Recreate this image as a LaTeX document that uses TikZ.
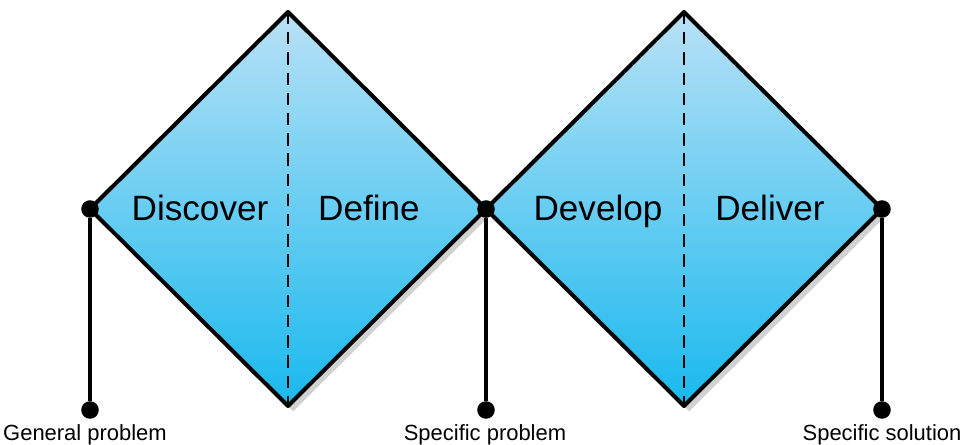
\documentclass[tikz,border=0pt]{standalone}
\usepackage{fontspec}
\setmainfont{Liberation Sans}
\usetikzlibrary{shadows}
\definecolor{toplight}{HTML}{B8E1F6}
\definecolor{botcyan}{HTML}{18B9EE}
\begin{document}
\begin{tikzpicture}[x=0.02cm,y=-0.02cm,
  phase/.style={draw,line width=2.3pt,line join=round,top color=toplight,bottom color=botcyan,drop shadow={shadow xshift=3pt,shadow yshift=-3pt,opacity=0.3,fill=black!60}},
  split/.style={dash pattern=on 7pt off 4.5pt,line width=1.1pt},
  dot/.style={circle,fill=black,inner sep=0pt,minimum size=10pt},
  stem/.style={line width=2.3pt},
  word/.style={anchor=base,font=\fontsize{20}{24}\selectfont},
  tag/.style={anchor=base,font=\fontsize{12.5}{15}\selectfont}]
\useasboundingbox (0,0) rectangle (961,445);
\coordinate (t1) at (288,12);
\coordinate (b1) at (288,406);
\coordinate (t2) at (684,12);
\coordinate (b2) at (684,406);
\path[phase] (90,209) -- (t1) -- (486,209) -- (b1) -- cycle;
\path[phase] (486,209) -- (t2) -- (882,209) -- (b2) -- cycle;
\draw[split] (t1) -- (b1);
\draw[split] (t2) -- (b2);
\node[word] (disc) at (200,221) {Discover};
\node[word] (defi) at (369,221) {Define};
\node[word] (deve) at (598,221) {Develop};
\node[word] (deli) at (770,221) {Deliver};
\node[dot] (p1) at (90,209) {};
\node[dot] (p2) at (486,209) {};
\node[dot] (p3) at (882,209) {};
\node[dot] (q1) at (90,410) {};
\node[dot] (q2) at (486,410) {};
\node[dot] (q3) at (882,410) {};
\draw[stem] (p1) -- (q1);
\draw[stem] (p2) -- (q2);
\draw[stem] (p3) -- (q3);
\node[tag] (gen) at (85,441) {General problem};
\node[tag] (spp) at (485,441) {Specific problem};
\node[tag] (sps) at (882,441) {Specific solution};
\end{tikzpicture}
\end{document}
